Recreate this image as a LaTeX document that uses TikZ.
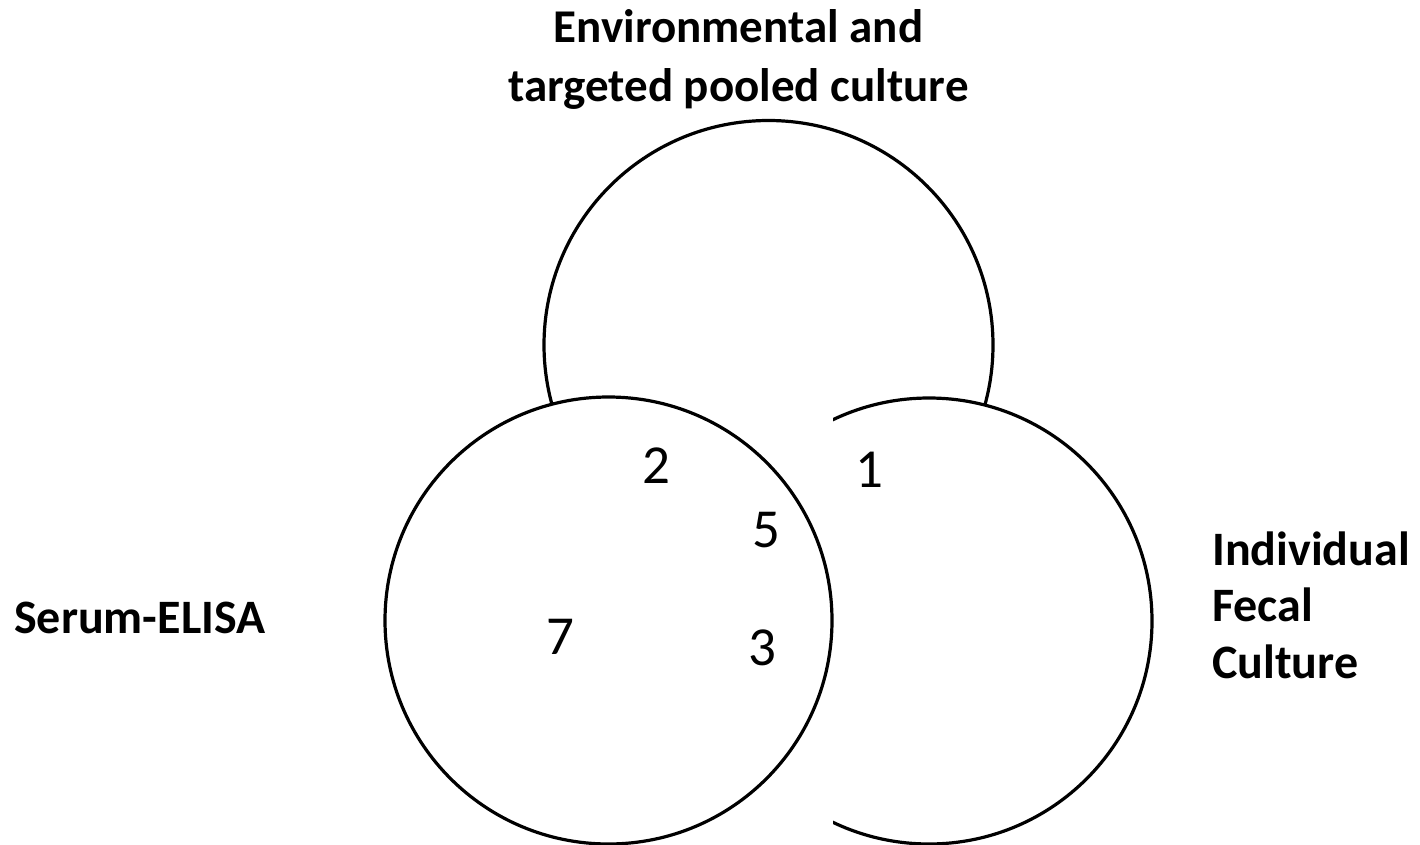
\documentclass[tikz,border=0pt]{standalone}
\usepackage{fontspec}
\setmainfont{Carlito}
\begin{document}
\begin{tikzpicture}[x=1pt,y=-1pt,
  venn/.style={line width=3.2pt,draw=black},
  setlabel/.style={font=\fontsize{48}{58}\selectfont\bfseries,inner sep=0pt},
  count/.style={font=\fontsize{55}{66}\selectfont,inner sep=0pt,anchor=base}]
\useasboundingbox (0,0) rectangle (1420,845);
% pooled culture set (top)
\draw[venn] (768.5,345) circle[radius=224.5];
% individual fecal culture set (right), hidden where it meets the ELISA set
\fill[white] (929,621) circle[radius=223];
\begin{scope}
  \clip (833,0) rectangle (1420,845);
  \draw[venn] (929,621) circle[radius=223];
\end{scope}
% serum ELISA set (left)
\filldraw[venn,fill=white] (608.5,620.5) circle[radius=223.5];
% set names (base anchor sits on the last line)
\node[setlabel,align=center,anchor=base,
  font=\fontsize{47}{59}\selectfont\bfseries] (envlbl) at (738.5,102)
  {Environmental and\\targeted pooled culture};
\node[setlabel,anchor=base west] (serlbl) at (14,633) {Serum-ELISA};
\node[setlabel,align=left,anchor=base west,
  font=\fontsize{48}{56.5}\selectfont\bfseries] (fecallbl) at (1212,678)
  {Individual\\Fecal\\Culture};
% counts
\node[count] (n2) at (656.5,483) {2};
\node[count] (n1) at (869,487) {1};
\node[count] (n5) at (766.5,547) {5};
\node[count] (n7) at (560.5,654) {7};
\node[count] (n3) at (762.5,665) {3};
\end{tikzpicture}
\end{document}
